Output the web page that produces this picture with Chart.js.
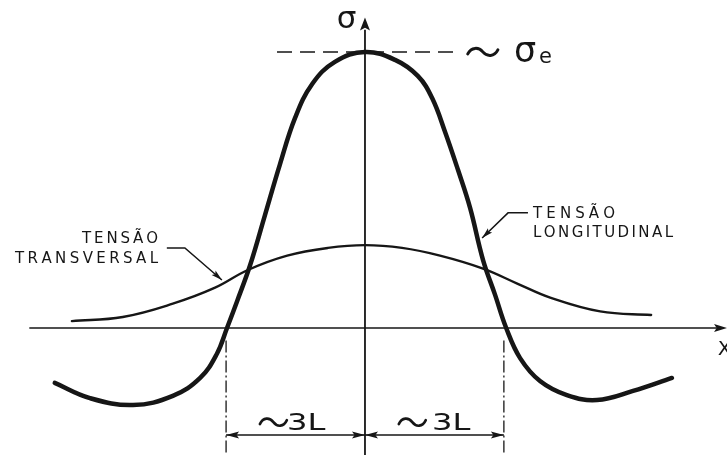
<!DOCTYPE html>
<html><head><meta charset="utf-8">
<script src="https://cdn.jsdelivr.net/npm/chart.js@4/dist/chart.umd.min.js"></script>
<style>html,body{margin:0;padding:0;background:#fff;overflow:hidden}#wrap{width:727px;height:455px}</style>
</head><body><div id="wrap"><canvas id="c" width="727" height="455"></canvas></div>
<script>
// x in units of L, stress normalised to sigma_e
const xLong = [-6.70,-5.94,-5.01,-4.15,-3.56,-3.20,-2.98,-2.76,-2.48,-2.16,-1.84,-1.51,-1.14,-0.65,0,0.65,1.14,1.45,1.73,2.01,2.27,2.55,2.81,3.05,3.35,3.78,4.36,5.01,5.79,6.63];
const yLong = [-0.199,-0.254,-0.279,-0.246,-0.181,-0.094,0,0.098,0.228,0.409,0.591,0.761,0.884,0.964,1.0,0.971,0.913,0.833,0.710,0.572,0.435,0.246,0.120,0,-0.109,-0.192,-0.243,-0.261,-0.228,-0.181];
const xTrans = [-6.33,-5.23,-4.15,-3.25,-2.53,-1.68,-0.80,0,0.80,1.62,2.55,3.30,4.00,5.08,6.18];
const yTrans = [0.025,0.040,0.088,0.145,0.21,0.262,0.290,0.30,0.29,0.262,0.215,0.16,0.11,0.06,0.047];
const dimTicks = [-3, 0, 3];
const dimLabel = '3L';
const peakValue = 1.0;
const labelTrans = ['TENSÃO','TRANSVERSAL'];
const labelLong = ['TENSÃO','LONGITUDINAL'];
const yAxisLabel = 'σ';
const peakLabel = 'σ', peakSub = 'e';
const xAxisLabel = 'X';

const ink = '#161616';
const FONT = '"DejaVu Sans", "Liberation Sans", sans-serif';

function head(ctx, tx, ty, fx, fy, len, wid){
  const a = Math.atan2(ty-fy, tx-fx);
  ctx.save(); ctx.translate(tx,ty); ctx.rotate(a);
  ctx.beginPath(); ctx.moveTo(0,0); ctx.lineTo(-len,-wid/2); ctx.lineTo(-len*0.8,0); ctx.lineTo(-len,wid/2); ctx.closePath(); ctx.fill();
  ctx.restore();
}
function tilde(ctx, x, cy, w, a, lw){
  ctx.save(); ctx.lineWidth = lw; ctx.lineCap='round';
  ctx.beginPath(); ctx.moveTo(x, cy+a*0.4);
  ctx.bezierCurveTo(x+w*0.12, cy-a, x+w*0.36, cy-a, x+w*0.5, cy);
  ctx.bezierCurveTo(x+w*0.64, cy+a, x+w*0.88, cy+a, x+w, cy-a*0.4);
  ctx.stroke(); ctx.restore();
}
function spaced(ctx, text, x, y, width, align){
  const chars = [...text];
  const ws = chars.map(c => ctx.measureText(c).width);
  const total = ws.reduce((a,b)=>a+b,0);
  const gap = chars.length>1 ? (width-total)/(chars.length-1) : 0;
  let cx = align==='right' ? x-width : x;
  ctx.textAlign='left';
  chars.forEach((c,i)=>{ ctx.fillText(c, cx, y); cx += ws[i]+gap; });
}

const diagram = {
  id: 'diagram',
  beforeDatasetsDraw(chart){
    const ctx = chart.ctx, X = v=>chart.scales.x.getPixelForValue(v), Y = v=>chart.scales.y.getPixelForValue(v);
    ctx.save(); ctx.strokeStyle = ink; ctx.fillStyle = ink;
    ctx.lineWidth = 1.6;
    ctx.beginPath(); ctx.moveTo(X(-7.25), Y(0)); ctx.lineTo(X(7.6), Y(0)); ctx.stroke();
    head(ctx, X(7.82), Y(0), X(7), Y(0), 13, 8);
    ctx.lineWidth = 1.8;
    ctx.beginPath(); ctx.moveTo(X(0), Y(-0.47)); ctx.lineTo(X(0), Y(1.08)); ctx.stroke();
    head(ctx, X(0), Y(1.125), X(0), Y(0.9), 13, 10);
    ctx.lineWidth = 1.5; ctx.setLineDash([15,8]);
    ctx.beginPath(); ctx.moveTo(X(-1.9), Y(peakValue)); ctx.lineTo(X(2.0), Y(peakValue)); ctx.stroke();
    ctx.lineWidth = 1.3; ctx.setLineDash([12,3,2,3]);
    [dimTicks[0], dimTicks[dimTicks.length-1]].forEach(d=>{
      ctx.beginPath(); ctx.moveTo(X(d), Y(-0.045)); ctx.lineTo(X(d), Y(-0.455)); ctx.stroke();
    });
    ctx.setLineDash([]);
    const yd = Y(-0.388);
    ctx.lineWidth = 1.5;
    for (let i=0;i<dimTicks.length-1;i++){
      const a = X(dimTicks[i]), b = X(dimTicks[i+1]);
      ctx.beginPath(); ctx.moveTo(a,yd); ctx.lineTo(b,yd); ctx.stroke();
      head(ctx, a, yd, b, yd, 13, 7); head(ctx, b, yd, a, yd, 13, 7);
    }
    ctx.restore();
  },
  afterDatasetsDraw(chart){
    const ctx = chart.ctx, X = v=>chart.scales.x.getPixelForValue(v), Y = v=>chart.scales.y.getPixelForValue(v);
    ctx.save(); ctx.strokeStyle = ink; ctx.fillStyle = ink; ctx.textBaseline = 'alphabetic';
    ctx.font = '31px ' + FONT; ctx.textAlign = 'center';
    ctx.fillText(yAxisLabel, X(-0.40), Y(1.087));
    ctx.font = '20px ' + FONT; ctx.textAlign = 'left';
    ctx.fillText(xAxisLabel, X(7.62), Y(-0.098));
    tilde(ctx, X(2.22), Y(peakValue), X(2.87)-X(2.22), 5, 3);
    ctx.font = '35px ' + FONT; ctx.textAlign='left';
    ctx.fillText(peakLabel, X(3.22), Y(0.964));
    ctx.font = '21px ' + FONT;
    ctx.fillText(peakSub, X(3.76), Y(0.96));
    const yb = Y(-0.370);
    [[-2.27,-1.685],[0.73,1.447]].forEach(([tx,lx])=>{
      tilde(ctx, X(tx), yb-8, 27, 5, 2.6);
      ctx.save(); ctx.translate(X(lx), yb); ctx.scale(1.4,1);
      ctx.font = '23px ' + FONT; ctx.textAlign='left';
      ctx.fillText(dimLabel, 0, 0);
      ctx.restore();
    });
    ctx.font = '15px ' + FONT;
    ctx.lineWidth = 0.5;
    const lab = (t,x,y,w,al)=>spaced(ctx,t,x,y,w,al);
    lab(labelTrans[0], X(-4.47), Y(0.308), 76, 'right');
    lab(labelTrans[1], X(-4.47), Y(0.2355), 143, 'right');
    lab(labelLong[0], X(3.63), Y(0.3986), 82, 'left');
    lab(labelLong[1], X(3.63), Y(0.33), 140, 'left');
    ctx.lineWidth = 1.5;
    ctx.beginPath(); ctx.moveTo(X(-4.28), Y(0.29)); ctx.lineTo(X(-3.89), Y(0.29)); ctx.lineTo(X(-3.09), Y(0.174)); ctx.stroke();
    head(ctx, X(-3.09), Y(0.174), X(-3.89), Y(0.29), 11, 6);
    ctx.beginPath(); ctx.moveTo(X(3.52), Y(0.417)); ctx.lineTo(X(3.09), Y(0.417)); ctx.lineTo(X(2.53), Y(0.326)); ctx.stroke();
    head(ctx, X(2.53), Y(0.326), X(3.09), Y(0.417), 11, 6);
    ctx.restore();
  }
};

new Chart(document.getElementById('c'), {
  type: 'scatter',
  data: {
    datasets: [
      { label: 'Tensão longitudinal', data: xLong.map((x,i)=>({x, y:yLong[i]})), showLine: true,
        borderColor: ink, borderWidth: 4.5, pointRadius: 0, tension: 0.4, borderCapStyle: 'round', borderJoinStyle: 'round' },
      { label: 'Tensão transversal', data: xTrans.map((x,i)=>({x, y:yTrans[i]})), showLine: true,
        borderColor: ink, borderWidth: 2.4, pointRadius: 0, tension: 0.4, borderCapStyle: 'round', borderJoinStyle: 'round' }
    ]
  },
  options: {
    responsive: false, animation: false, devicePixelRatio: 1,
    layout: { padding: 0 },
    scales: {
      x: { type: 'linear', display: false, min: -7.883, max: 7.819 },
      y: { type: 'linear', display: false, min: -0.460, max: 1.188 }
    },
    plugins: { legend: { display: false }, tooltip: { enabled: false } }
  },
  plugins: [diagram]
});
</script>
</body></html>
